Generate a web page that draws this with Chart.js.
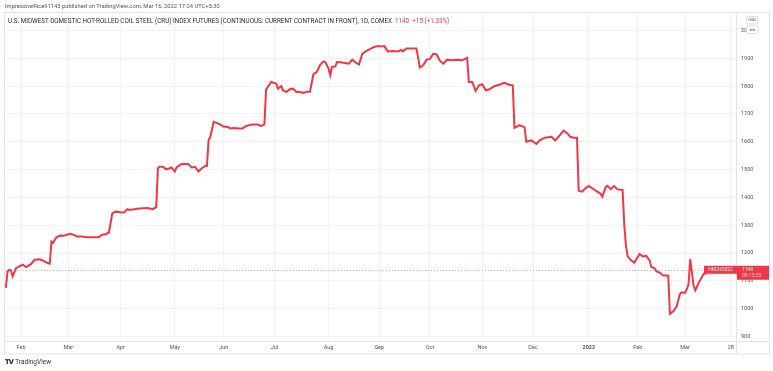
<!DOCTYPE html>
<html>
<head>
<meta charset="utf-8">
<script src="https://cdn.jsdelivr.net/npm/chart.js@4.4.1/dist/chart.umd.min.js"></script>
<style>
  body { margin: 0; background: #fff; }
  #wrap { position: relative; width: 773px; height: 371px; font-family: Roboto, "Liberation Sans", sans-serif; }
  #c { position: absolute; left: 0; top: 0; }
  .txt { position: absolute; white-space: nowrap; }
  #pub { left: 5px; top: 3px; font-size: 5.8px; color: #555; }
  #ttl { left: 8px; top: 17px; font-size: 6.3px; color: #2a2e39; }
  #ttl .chg { color: #f23645; margin-left: 3px; }
  #logo { left: 5px; top: 358px; font-size: 6.5px; color: #333; }
  #logo b { font-family: "DejaVu Sans", sans-serif; font-weight: 900; font-size: 6.5px; letter-spacing: -0.6px; margin-right: 2px; color: #131722; }
</style>
</head>
<body>
<div id="wrap">
  <canvas id="c" width="773" height="371"></canvas>
  <div class="txt" id="pub">ImpressiveRice91143 published on TradingView.com, Mar 16, 2022 17:24 UTC+5:30</div>
  <div class="txt" id="ttl">U.S. MIDWEST DOMESTIC HOT-ROLLED COIL STEEL (CRU) INDEX FUTURES (CONTINUOUS: CURRENT CONTRACT IN FRONT), 1D, COMEX<span class="chg">1140 &nbsp;+15 (+1.33%)</span></div>
  <div class="txt" id="logo"><b>TV</b>TradingView</div>
</div>
<script>
// days counted from 2021-01-01 (day 0)
const days = [
  22, 23, 24, 25, 26, 28, 30, 32, 34, 37, 39, 42, 44, 46, 48, 49, 50, 52, 54, 56,
  58, 60, 62, 64, 67, 70, 77, 79, 81, 83, 85, 87, 90, 92, 94, 95, 101, 106, 109, 111,
  112, 113, 115, 117, 119, 120, 122, 123, 126, 128, 130, 132, 134, 136, 138, 140, 141, 142, 143, 145,
  146, 149, 151, 153, 155, 157, 160, 162, 164, 166, 168, 171, 173, 175, 176, 179, 182, 183, 185, 186,
  188, 190, 192, 194, 196, 198, 200, 202, 204, 206, 208, 210, 211, 213, 214, 215, 217, 218, 221, 225,
  227, 229, 231, 233, 236, 238, 240, 242, 244, 246, 248, 251, 254, 256, 257, 259, 262, 265, 267, 269,
  271, 273, 275, 277, 279, 281, 283, 286, 289, 292, 295, 296, 298, 300, 302, 304, 306, 308, 311, 314,
  317, 320, 322, 323, 326, 329, 330, 333, 336, 338, 341, 345, 347, 350, 352, 354, 356, 358, 360, 361,
  363, 365, 367, 369, 372, 374, 375, 377, 378, 380, 382, 384, 387, 388, 389, 390, 392, 394, 397, 399,
  401, 403, 404, 406, 407, 409, 411, 414, 415, 417, 419, 421, 422, 424, 426, 427, 429, 430, 432, 435,
  436, 437
];
const prices = [
  1075, 1134, 1140, 1138, 1116, 1146, 1152, 1158, 1150, 1161, 1176, 1178, 1173, 1166, 1162, 1242, 1238, 1257, 1263, 1262,
  1266, 1269, 1266, 1260, 1260, 1257, 1257, 1266, 1268, 1274, 1343, 1349, 1347, 1346, 1358, 1355, 1360, 1362, 1358, 1365,
  1505, 1510, 1510, 1501, 1505, 1508, 1493, 1508, 1520, 1520, 1520, 1508, 1510, 1493, 1505, 1513, 1513, 1606, 1618, 1672,
  1670, 1662, 1654, 1654, 1648, 1650, 1648, 1648, 1656, 1660, 1662, 1662, 1657, 1662, 1788, 1815, 1809, 1791, 1800, 1785,
  1779, 1789, 1791, 1779, 1779, 1776, 1780, 1780, 1843, 1851, 1877, 1889, 1887, 1863, 1839, 1869, 1871, 1887, 1885, 1881,
  1895, 1885, 1878, 1917, 1929, 1935, 1941, 1944, 1943, 1944, 1925, 1926, 1925, 1930, 1925, 1935, 1935, 1935, 1867, 1875,
  1895, 1898, 1917, 1914, 1890, 1881, 1895, 1893, 1895, 1893, 1902, 1815, 1815, 1783, 1803, 1807, 1785, 1788, 1800, 1805,
  1812, 1805, 1803, 1650, 1660, 1652, 1600, 1605, 1592, 1605, 1615, 1618, 1605, 1625, 1640, 1632, 1618, 1615, 1615, 1424,
  1421, 1433, 1441, 1433, 1421, 1413, 1403, 1437, 1442, 1430, 1441, 1429, 1427, 1300, 1226, 1188, 1174, 1166, 1197, 1188,
  1190, 1174, 1150, 1145, 1134, 1130, 1119, 1119, 982, 991, 1009, 1054, 1059, 1057, 1086, 1178, 1083, 1066, 1093, 1126,
  1126, 1140
];

// time axis: first trading day of each month (days from 2021-01-01)
const tickDays = [31, 59, 90, 122, 151, 181, 213, 243, 273, 304, 334, 367, 396, 424, 451];
const tickLabels = ['Feb', 'Mar', 'Apr', 'May', 'Jun', 'Jul', 'Aug', 'Sep', 'Oct', 'Nov', 'Dec', '2022', 'Feb', 'Mar', '28'];
const priceTicks = [900, 1000, 1100, 1200, 1300, 1400, 1500, 1600, 1700, 1800, 1900, 2000];

const lastPrice = prices[prices.length - 1];
const symbol = 'HRCH2022';
const clock = '09:15:55';

const red = '#f23645';
const gridColor = '#f2f3f6';
const frameColor = '#e0e3eb';

function roundRect(ctx, x, y, w, h, r) {
    ctx.beginPath();
    ctx.moveTo(x + r, y);
    ctx.arcTo(x + w, y, x + w, y + h, r);
    ctx.arcTo(x + w, y + h, x, y + h, r);
    ctx.arcTo(x, y + h, x, y, r);
    ctx.arcTo(x, y, x + w, y, r);
    ctx.closePath();
}

const decor = {
    id: 'decor',
    beforeDatasetsDraw(chart) {
        // garis putus-putus harga terakhir
        const ctx = chart.ctx, area = chart.chartArea;
        const y = Math.round(chart.scales.y.getPixelForValue(lastPrice)) + 0.5;
        ctx.save();
        ctx.strokeStyle = 'rgba(242,54,69,0.45)';
        ctx.lineWidth = 1;
        ctx.setLineDash([1, 2]);
        ctx.beginPath();
        ctx.moveTo(area.left, y);
        ctx.lineTo(area.right, y);
        ctx.stroke();
        ctx.restore();
    },
    afterDraw(chart) {
        const ctx = chart.ctx;
        const y = chart.scales.y.getPixelForValue(lastPrice);
        ctx.save();

        // bingkai pane
        ctx.strokeStyle = frameColor;
        ctx.lineWidth = 1;
        ctx.strokeRect(4.5, 12.5, 765, 341.5);
        ctx.beginPath();
        ctx.moveTo(4.5, 341.5); ctx.lineTo(769.5, 341.5);
        ctx.moveTo(736.5, 12.5); ctx.lineTo(736.5, 354);
        ctx.stroke();

        // label simbol
        ctx.fillStyle = red;
        ctx.fillRect(704, y - 4, 33, 8);
        ctx.fillStyle = '#fff';
        ctx.font = '5px Roboto, sans-serif';
        ctx.textAlign = 'center';
        ctx.textBaseline = 'middle';
        ctx.fillText(symbol, 720.5, y);

        // label harga di sumbu
        ctx.fillStyle = red;
        ctx.fillRect(737, y - 4, 32, 14);
        ctx.fillStyle = '#fff';
        ctx.textAlign = 'left';
        ctx.fillText(String(lastPrice), 742, y);
        ctx.fillStyle = 'rgba(255,255,255,0.8)';
        ctx.fillText(clock, 742, y + 6);

        // kotak USD / sht
        ctx.lineWidth = 0.7;
        ctx.strokeStyle = '#c9ccd6';
        ctx.fillStyle = '#fff';
        roundRect(ctx, 746.5, 16.5, 11.5, 7.5, 1.5);
        ctx.fill(); ctx.stroke();
        roundRect(ctx, 746.5, 26, 11.5, 7.5, 1.5);
        ctx.fill(); ctx.stroke();
        ctx.fillStyle = '#444';
        ctx.font = '4px Roboto, sans-serif';
        ctx.textAlign = 'center';
        ctx.fillText('USD', 752.2, 20.4);
        ctx.fillText('sht', 752.2, 29.8);
        ctx.restore();
    }
};

const ctx = document.getElementById('c').getContext('2d');
const chart = new Chart(ctx, {
    type: 'line',
    data: {
        datasets: [{
            label: symbol,
            data: days.map((d, i) => ({ x: d, y: prices[i] })),
            borderColor: red,
            borderWidth: 2,
            pointRadius: 0,
            tension: 0,
            fill: false
        }]
    },
    options: {
        responsive: false,
        animation: false,
        devicePixelRatio: 1,
        layout: { padding: { left: 5, top: 13, right: 0, bottom: 17 } },
        plugins: { legend: { display: false }, tooltip: { enabled: false } },
        scales: {
            x: {
                type: 'linear',
                min: 21.5,
                max: 454.7,
                afterBuildTicks: s => { s.ticks = tickDays.map(v => ({ value: v })); },
                afterFit: s => { s.height = 13; },
                grid: { color: gridColor, drawTicks: false },
                border: { display: false },
                ticks: {
                    autoSkip: false,
                    maxRotation: 0,
                    padding: 3,
                    color: '#555',
                    font: c => ({ family: 'Roboto, sans-serif', size: 5.5, weight: tickLabels[c.index] === '2022' ? 'bold' : 'normal' }),
                    callback: (v, i) => tickLabels[i]
                }
            },
            y: {
                position: 'right',
                min: 884,
                max: 2063,
                afterBuildTicks: s => { s.ticks = priceTicks.map(v => ({ value: v })); },
                afterFit: s => { s.width = 36; },
                grid: { color: gridColor, drawTicks: false },
                border: { display: false },
                ticks: {
                    autoSkip: false,
                    padding: 4,
                    color: '#555',
                    font: { family: 'Roboto, sans-serif', size: 5.5 },
                    callback: v => String(v)
                }
            }
        }
    },
    plugins: [decor]
});
</script>
</body>
</html>
